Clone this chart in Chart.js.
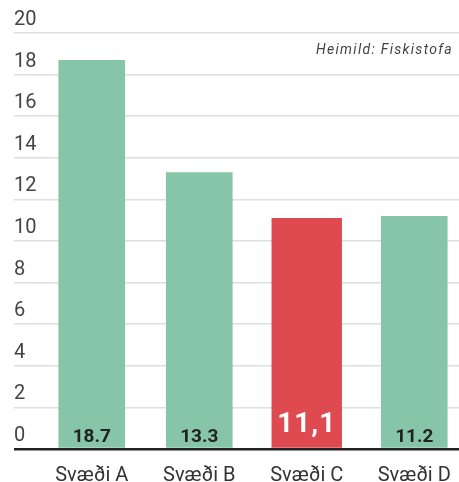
<!DOCTYPE html>
<html>
<head>
<meta charset="utf-8">
<script src="https://cdn.jsdelivr.net/npm/chart.js@4/dist/chart.umd.min.js"></script>
<style>
  html, body { margin: 0; padding: 0; background: #fff; overflow: hidden; }
  #wrap { width: 468px; height: 482px; }
</style>
</head>
<body>
<div id="wrap"><canvas id="chart" width="468" height="482"></canvas></div>
<script>
// --- datos ---
const svaedi = ['Svæði A', 'Svæði B', 'Svæði C', 'Svæði D'];
const gildi = [18.7, 13.3, 11.1, 11.2];
const gildiTexti = ['18.7', '13.3', '11,1', '11.2'];
const aherslaIdx = 2; // Svæði C er rauð
const yTicks = [0, 2, 4, 6, 8, 10, 12, 14, 16, 18, 20];
const heimild = 'Heimild: Fiskistofa';

const GRAENN = '#86c5a8';
const RAUDUR = '#df4a50';

// bars split in two datasets so the red one can be a touch wider
const venjuleg = gildi.map((v, i) => i === aherslaIdx ? null : v);
const ahersla = gildi.map((v, i) => i === aherslaIdx ? v : null);

// labels inside bars + source note
const textaPlugin = {
    id: 'textar',
    afterDatasetsDraw(chart) {
        const ctx = chart.ctx;
        ctx.save();
        chart.data.datasets.forEach((ds, di) => {
            const meta = chart.getDatasetMeta(di);
            meta.data.forEach((bar, i) => {
                if (ds.data[i] === null) return;
                ctx.textAlign = 'center';
                ctx.textBaseline = 'alphabetic';
                if (i === aherslaIdx) {
                    ctx.fillStyle = '#ffffff';
                    ctx.font = 'bold 28px Roboto';
                    ctx.letterSpacing = '1px';
                    ctx.fillText(gildiTexti[i], bar.x, bar.base - 16);
                } else {
                    ctx.fillStyle = '#222222';
                    ctx.font = 'bold 19px Roboto';
                    ctx.letterSpacing = '0px';
                    ctx.fillText(gildiTexti[i], bar.x, bar.base - 6);
                }
            });
        });
        ctx.letterSpacing = '1.3px';
        ctx.font = 'italic 14px Roboto';
        ctx.fillStyle = '#444444';
        ctx.textAlign = 'right';
        ctx.fillText(heimild, 453, 54);
        ctx.restore();
    }
};

new Chart(document.getElementById('chart'), {
    type: 'bar',
    data: {
        labels: svaedi,
        datasets: [
            { data: venjuleg, backgroundColor: GRAENN, barPercentage: 0.62, categoryPercentage: 1 },
            { data: ahersla, backgroundColor: RAUDUR, barPercentage: 0.655, categoryPercentage: 1 }
        ]
    },
    options: {
        responsive: false,
        animation: false,
        devicePixelRatio: 1,
        grouped: false,
        layout: { padding: { left: 14, top: 33, right: 0, bottom: 0 } },
        plugins: { legend: { display: false }, tooltip: { enabled: false } },
        scales: {
            x: {
                afterFit: (scale) => { scale.height = 33; },
                grid: { display: false },
                border: { display: false },
                ticks: { color: '#333', font: { family: 'Roboto', size: 20 }, padding: 7, maxRotation: 0 }
            },
            y: {
                min: 0,
                max: 20,
                afterBuildTicks: (scale) => { scale.ticks = yTicks.map(v => ({ value: v })); },
                afterFit: (scale) => { scale.width = 24; },
                border: { display: false },
                grid: {
                    drawTicks: true,
                    tickLength: 24,
                    color: (c) => c.tick && c.tick.value === 0 ? '#222' : '#dedede',
                    lineWidth: (c) => c.tick && c.tick.value === 0 ? 2.5 : 1.5
                },
                ticks: {
                    crossAlign: 'far',
                    labelOffset: -13,
                    padding: 0,
                    color: '#444',
                    font: { family: 'Roboto', size: 20 }
                }
            }
        }
    },
    plugins: [textaPlugin]
});
</script>
</body>
</html>
